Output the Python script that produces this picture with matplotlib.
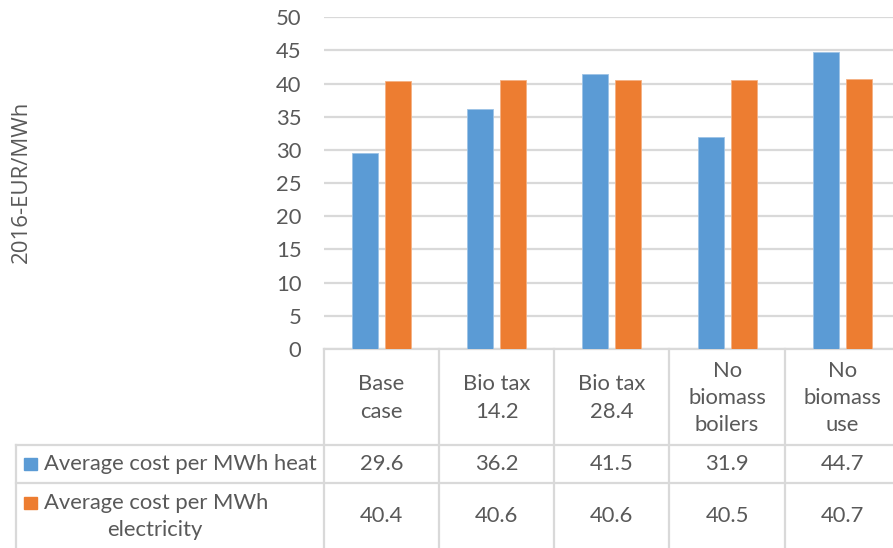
import matplotlib.pyplot as plt
import matplotlib.transforms as mtransforms
import numpy as np

categories = ["Base\ncase", "Bio tax\n14.2", "Bio tax\n28.4", "No\nbiomass\nboilers", "No\nbiomass\nuse"]
heat = [29.6, 36.2, 41.5, 31.9, 44.7]
electricity = [40.4, 40.6, 40.6, 40.5, 40.7]
series_names = ["Average cost per MWh heat", "Average cost per MWh\nelectricity"]
yticks = [0, 5, 10, 15, 20, 25, 30, 35, 40, 45, 50]

blue = "#5B9BD5"
orange = "#ED7D31"
txt = "#595959"
line = "#D9D9D9"
fs = 15.8

plt.rcParams["font.family"] = ["Lato", "DejaVu Sans"]

W, H = 893, 548
fig = plt.figure(figsize=(W / 100, H / 100), dpi=100)

# plot area in pixels (top-left origin)
left, right, top, bottom = 323.7, 900.0, 17.3, 349.0
ax = fig.add_axes([left / W, 1 - bottom / H, (right - left) / W, (bottom - top) / H])

x = np.arange(len(categories))
off, bw = 0.143, 0.225
ax.bar(x - off, heat, bw, color=blue, edgecolor="#9DC3E6", linewidth=0.6, zorder=3)
ax.bar(x + off, electricity, bw, color=orange, edgecolor="#F4B183", linewidth=0.6, zorder=3)

ax.set_xlim(-0.5, len(categories) - 0.5)
ax.set_ylim(0, 50)
ax.set_yticks(yticks)
ax.yaxis.grid(True, color=line, linewidth=1.6, zorder=0)
ax.tick_params(axis="y", length=0, labelsize=fs, labelcolor=txt, pad=16)
ax.tick_params(axis="x", length=0, labelbottom=False)
for s in ["top", "right", "left"]:
    ax.spines[s].set_visible(False)
ax.spines["bottom"].set_color(line)
ax.spines["bottom"].set_linewidth(1.6)


def py(p):
    return 1 - p / H


fig.text(21 / W, py(182), "2016-EUR/MWh", rotation=90, ha="center", va="center",
         color=txt, fontsize=16, family=["Open Sans", "DejaVu Sans"])

# data table below the plot: x in data units, y in pixels from top of figure
tr = mtransforms.blended_transform_factory(ax.transData, fig.transFigure)
trf = fig.transFigure
row1, row2, row_end = 445.0, 483.0, 560.0
left_tab = 16 / W

for k in range(len(categories) + 1):
    xl = k - 0.5
    ax.plot([xl, xl], [py(bottom), py(row_end)], transform=tr, color=line, lw=1.6, clip_on=False)
for yy in (row1, row2):
    fig.add_artist(plt.Line2D([left_tab, 1], [py(yy), py(yy)], color=line, lw=1.6))
fig.add_artist(plt.Line2D([left_tab, left_tab], [py(row1), py(row_end)], color=line, lw=1.6))

for i, c in enumerate(categories):
    ax.text(i, py((bottom + row1) / 2 + 1), c, transform=tr, ha="center", va="center",
            fontsize=fs, color=txt, linespacing=1.45)
    ax.text(i, py((row1 + row2) / 2), f"{heat[i]:.1f}", transform=tr, ha="center",
            va="center", fontsize=fs, color=txt)
    ax.text(i, py(516), f"{electricity[i]:.1f}", transform=tr, ha="center",
            va="center", fontsize=fs, color=txt)

# legend keys inside the table header column
fig.add_artist(plt.Rectangle((24 / W, py(470)), 13 / W, 12 / H, transform=trf, color=blue))
fig.add_artist(plt.Rectangle((24 / W, py(509)), 13 / W, 12 / H, transform=trf, color=orange))
fig.text(44 / W, py(464), series_names[0], ha="left", va="center", fontsize=fs, color=txt)
fig.text(44 / W, py(503), "Average cost per MWh", ha="left", va="center", fontsize=fs, color=txt)
fig.text(155 / W, py(530), "electricity", ha="center", va="center", fontsize=fs, color=txt)

fig.savefig("out.png", dpi=100)
